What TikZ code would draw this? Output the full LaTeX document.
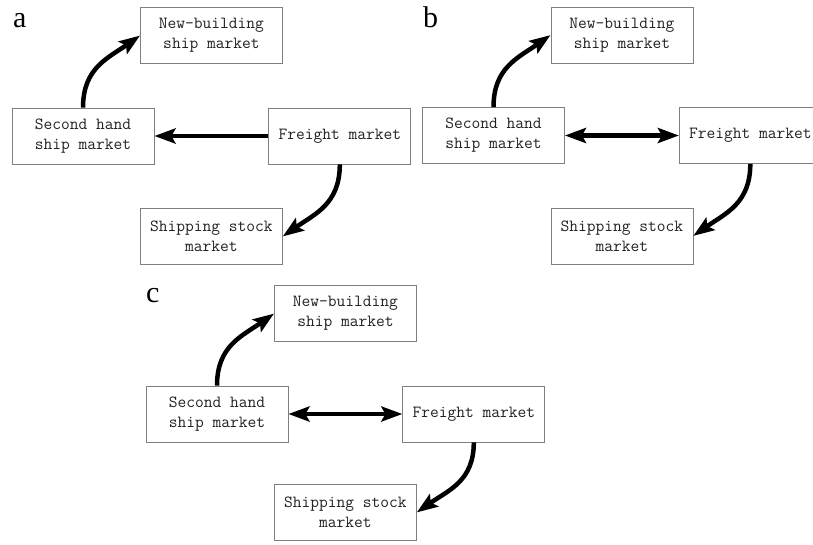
\documentclass[tikz,border=0pt]{standalone}
\usepackage{fontspec}
\setmainfont{Liberation Serif}
\usetikzlibrary{arrows.meta,positioning,calc}
\definecolor{MktEdge}{HTML}{7F7F7F}
\definecolor{MktInk}{HTML}{222222}

\begin{document}
\begin{tikzpicture}[
  x=1pt,y=-1pt,
  node distance=114pt,
  box/.style={draw=MktEdge,line width=0.8pt,fill=white,text=MktInk,minimum width=142pt,minimum height=56pt,
    align=center,inner sep=0pt,font=\ttfamily\fontsize{17}{20}\selectfont},
  tag/.style={font=\fontsize{30}{30}\selectfont,anchor=base west,inner sep=0pt},
  flow/.style={line width=4.5pt,-{Stealth[length=21pt,width=15pt,inset=4pt]}},
  twoway/.style={line width=4.5pt,{Stealth[length=21pt,width=15pt,inset=4pt]}-{Stealth[length=21pt,width=15pt,inset=4pt]}},
]
\useasboundingbox (0,0) rectangle (813,544);

% panel a
\node[tag] (tagA) at (13,27) {a};
\node[box] (secA) at (83,136) {Second hand\\ship market};
\node[box,right=of secA] (frA) {Freight market};
\coordinate (midA) at ($(secA)!0.5!(frA)$);
\node[box,above=72pt of midA] (newA) {New-building\\ship market};
\node[box,below=72pt of midA] (stockA) {Shipping stock\\market};
\draw[flow] (secA.north) to[out=90,in=215,looseness=1.1] (newA.west);
\draw[flow] (frA.west) -- (secA.east);
\draw[flow] (frA.south) to[out=-90,in=35,looseness=1.1] (stockA.east);

% panel b
\node[tag] (tagB) at (423,27) {b};
\node[box] (secB) at (493.5,135.5) {Second hand\\ship market};
\node[box,right=of secB] (frB) {Freight market};
\coordinate (midB) at ($(secB)!0.5!(frB)$);
\node[box,above=72pt of midB] (newB) {New-building\\ship market};
\node[box,below=72pt of midB] (stockB) {Shipping stock\\market};
\draw[flow] (secB.north) to[out=90,in=215,looseness=1.1] (newB.west);
\draw[twoway] (secB.east) -- (frB.west);
\draw[flow] (frB.south) to[out=-90,in=35,looseness=1.1] (stockB.east);

% panel c
\node[tag] (tagC) at (146,302) {c};
\node[box] (secC) at (217,414) {Second hand\\ship market};
\node[box,right=of secC] (frC) {Freight market};
\coordinate (midC) at ($(secC)!0.5!(frC)$);
\node[box,above=72pt of midC] (newC) {New-building\\ship market};
\node[box,below=70pt of midC] (stockC) {Shipping stock\\market};
\draw[flow] (secC.north) to[out=90,in=215,looseness=1.1] (newC.west);
\draw[twoway] (secC.east) -- (frC.west);
\draw[flow] (frC.south) to[out=-90,in=35,looseness=1.1] (stockC.east);
\end{tikzpicture}
\end{document}
